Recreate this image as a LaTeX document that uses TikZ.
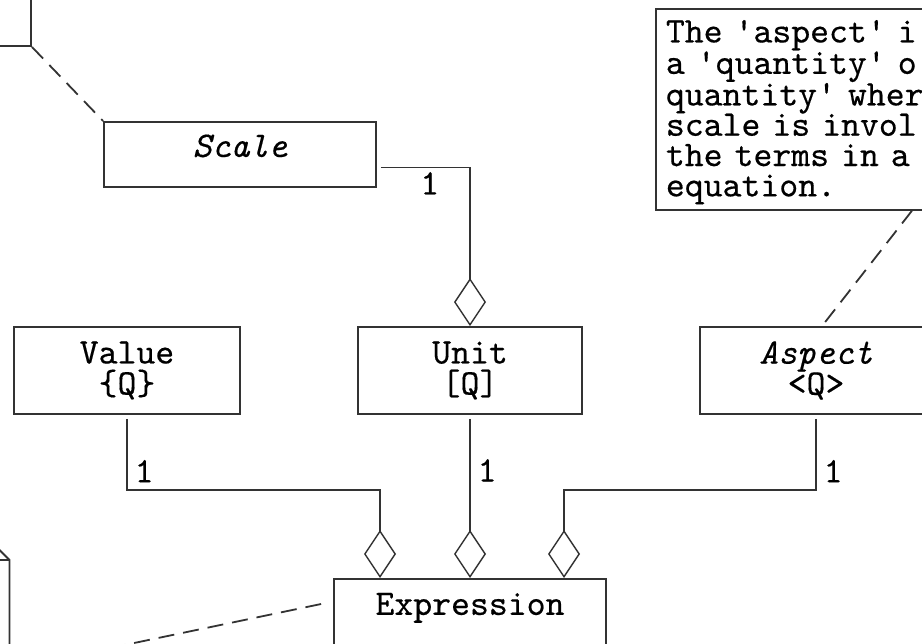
\documentclass[tikz,border=0pt]{standalone}
\usepackage{fontspec}
\setmonofont{lmmono10-regular.otf}[ItalicFont=lmmono10-italic.otf, FakeBold=0.4]
\usepackage{tikz}
\usetikzlibrary{arrows.meta, positioning}
\definecolor{linegray}{HTML}{333333}

\begin{document}
\begin{tikzpicture}[x=1pt, y=-1pt,
    font=\ttfamily\fontsize{36}{31}\selectfont,
    cls/.style={draw=linegray, line width=1.8pt, align=center, inner sep=0pt},
    note/.style={draw=linegray, line width=1.8pt, align=left, inner xsep=10pt, inner ysep=0pt, anchor=north west},
    assoc/.style={draw=linegray, line width=1.4pt, shorten <=4pt,
      -{Diamond[open, length=48pt, width=32pt]}},
    anchorline/.style={draw=linegray, line width=1.8pt, dash pattern=on 16pt off 9pt},
    mult/.style={inner sep=1pt}]
        \useasboundingbox (0,0) rectangle (922,644);
        \clip (0,0) rectangle (922,644);
        % classes
        \begin{scope}
          \node[cls, minimum width=272pt, anchor=north, text height=35pt, text depth=30pt] (scale) at (240,121) {\itshape Scale};
          \node[cls, minimum width=226pt, minimum height=87pt] (value) at (127,370.5) {Value\\\{Q\}};
          \node[cls, minimum width=224pt, minimum height=87pt] (unit) at (470,370.5) {Unit\\{[Q]}};
          \node[cls, minimum width=232pt, minimum height=87pt] (aspect) at (816,370.5) {\itshape Aspect\\<Q>};
          \node[cls, minimum width=272pt, anchor=north, text height=36pt, text depth=50pt] (expr) at (470,578) {Expression};
        \end{scope}
        % notes
        \node[note, text width=280pt, minimum height=201pt, font=\ttfamily\fontsize{36}{30.3}\selectfont] (aspnote) at (655,8)
          {\rule{0pt}{28pt}The 'aspect' i\\a 'quantity' o\\quantity' wher\\scale is invol\\the terms in a\\equation.};
        \node[note, minimum width=120pt, minimum height=80pt, anchor=south east] (topnote) at (32,47) {};
        \draw[draw=linegray, line width=1.8pt] (-30,547) -- (-3.5,547) -- (9.5,560) -- (9.5,680);
        \draw[draw=linegray, line width=1.8pt] (-3.5,547) |- (9.5,560);
        \coordinate (foldnote) at (9.5,669);
        % aggregations
        \draw[assoc] ([yshift=-13pt]scale.east) -| node[mult, pos=0.284, below=3pt] {1} (unit.north);
        \draw[assoc] (value.south) -- node[mult, pos=0.75, right=6pt] {1} ++(0,75) -| ([xshift=-90pt]expr.north);
        \draw[assoc] (unit.south) -- node[mult, pos=0.34, right=6pt] {1} (expr.north);
        \draw[assoc] (aspect.south) -- node[mult, pos=0.75, right=6pt] {1} ++(0,75) -| ([xshift=94pt]expr.north);
        % note anchors
        \draw[anchorline] (topnote.south east) -- (scale.north west);
        \draw[anchorline, shorten >=5pt] ([xshift=106pt]aspnote.south) -- ([xshift=6pt]aspect.north);
        \draw[anchorline] ([shift={(-12pt,-26pt)}]expr.north west) -- (foldnote);
      \end{tikzpicture}
\end{document}
